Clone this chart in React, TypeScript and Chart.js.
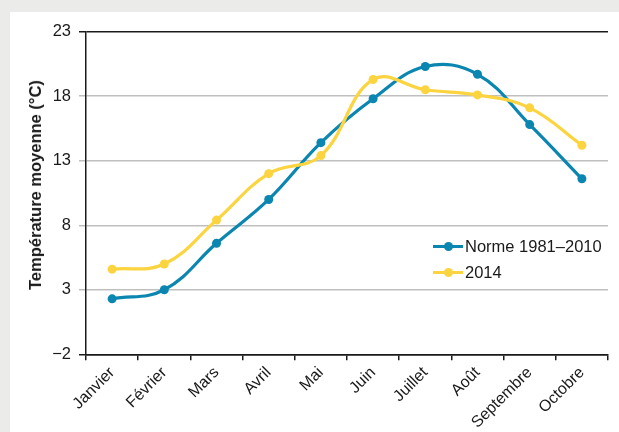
import React, { useEffect, useRef } from 'react';
import { Chart, registerables } from 'chart.js';

Chart.register(...registerables);

const months = ['Janvier', 'Février', 'Mars', 'Avril', 'Mai', 'Juin', 'Juillet', 'Août', 'Septembre', 'Octobre'];
const norme = [2.3, 3.0, 6.6, 10.0, 14.4, 17.8, 20.3, 19.7, 15.8, 11.6];
const temp2014 = [4.6, 5.0, 8.4, 12.0, 13.4, 19.3, 18.5, 18.1, 17.1, 14.2];
const yMin = -2;
const yMax = 23;
const yStep = 5;
const seriesNames = ['Norme 1981–2010', '2014'];
const yTitle = 'Température moyenne (°C)';

const BLUE = '#0a86b0';
const YELLOW = '#fcd43f';
const FONT = '"Liberation Sans", Arial, sans-serif';

export default function App() {
  const canvasRef = useRef<HTMLCanvasElement | null>(null);

  useEffect(() => {
    if (!canvasRef.current) return;
    const chart = new Chart(canvasRef.current, {
      type: 'line',
      data: {
        labels: months,
        datasets: [
          {
            label: seriesNames[0],
            data: norme,
            borderColor: BLUE,
            backgroundColor: BLUE,
            pointBackgroundColor: BLUE,
            pointBorderColor: BLUE,
            borderWidth: 3.2,
            pointRadius: 4.5,
            pointBorderWidth: 0,
            tension: 0.4,
            order: 2,
          },
          {
            label: seriesNames[1],
            data: temp2014,
            borderColor: YELLOW,
            backgroundColor: YELLOW,
            pointBackgroundColor: YELLOW,
            pointBorderColor: YELLOW,
            borderWidth: 3.2,
            pointRadius: 4.5,
            pointBorderWidth: 0,
            tension: 0.4,
            order: 1,
          },
        ],
      },
      options: {
        animation: false,
        responsive: false,
        maintainAspectRatio: false,
        layout: { padding: { left: 0, top: 31.7, right: 11, bottom: 0 } },
        plugins: {
          legend: { display: false },
          tooltip: { enabled: false },
        },
        scales: {
          x: {
            type: 'category',
            offset: true,
            grid: {
              offset: true,
              drawOnChartArea: false,
              drawTicks: true,
              tickLength: 6,
              tickColor: '#1a1a1a',
              lineWidth: 1.5,
            },
            border: { display: true, color: '#1a1a1a', width: 1.5 },
            ticks: {
              autoSkip: false,
              maxRotation: 45,
              minRotation: 45,
              padding: 3,
              color: '#1a1a1a',
              font: { family: FONT, size: 16 },
            },
            afterFit: (scale: any) => {
              scale.height = 77.7;
            },
          },
          y: {
            min: yMin,
            max: yMax,
            ticks: {
              stepSize: yStep,
              padding: 8,
              color: '#1a1a1a',
              font: { family: FONT, size: 16.5 },
              callback: (v: any) => (Number(v) < 0 ? '\u2212' + Math.abs(Number(v)) : String(v)),
            },
            grid: {
              drawTicks: true,
              tickLength: 7,
              lineWidth: 1.5,
              color: (ctx: any) =>
                ctx.tick && (ctx.tick.value === yMax || ctx.tick.value === yMin) ? '#1a1a1a' : '#bfbfbf',
            },
            border: { display: true, color: '#1a1a1a', width: 1.5 },
            title: { display: false },
            afterFit: (scale: any) => {
              scale.width = 86;
            },
          },
        },
      },
    });
    return () => chart.destroy();
  }, []);

  const legendRow = (name: string, color: string) => (
    <div style={{ display: 'flex', alignItems: 'center', height: 26 }}>
      <div style={{ position: 'relative', width: 30, height: 13 }}>
        <div style={{ position: 'absolute', left: 0, top: 5, width: 30, height: 3, background: color }} />
        <div
          style={{
            position: 'absolute',
            left: 10.5,
            top: 2,
            width: 9,
            height: 9,
            borderRadius: '50%',
            background: color,
          }}
        />
      </div>
      <span style={{ marginLeft: 2, fontFamily: FONT, fontSize: 16.5, color: '#1a1a1a', lineHeight: '26px' }}>
        {name}
      </span>
    </div>
  );

  return (
    <div style={{ position: 'fixed', left: 0, top: 0, width: 619, height: 432, background: '#ebecea', overflow: 'hidden' }}>
      <div style={{ position: 'absolute', left: 10, top: 12, right: 0, bottom: 0, background: '#ffffff' }} />
      <canvas ref={canvasRef} width={619} height={432} style={{ position: 'absolute', left: 0, top: 0, width: 619, height: 432 }} />
      <div
        style={{
          position: 'absolute',
          left: 35,
          top: 185,
          transform: 'translate(-50%, -50%) rotate(-90deg)',
          whiteSpace: 'nowrap',
          fontFamily: FONT,
          fontSize: 16.5,
          fontWeight: 'bold',
          color: '#1a1a1a',
          lineHeight: '20px',
        }}
      >
        {yTitle}
      </div>
      <div style={{ position: 'absolute', left: 433, top: 233 }}>
        {legendRow(seriesNames[0], BLUE)}
        {legendRow(seriesNames[1], YELLOW)}
      </div>
    </div>
  );
}
